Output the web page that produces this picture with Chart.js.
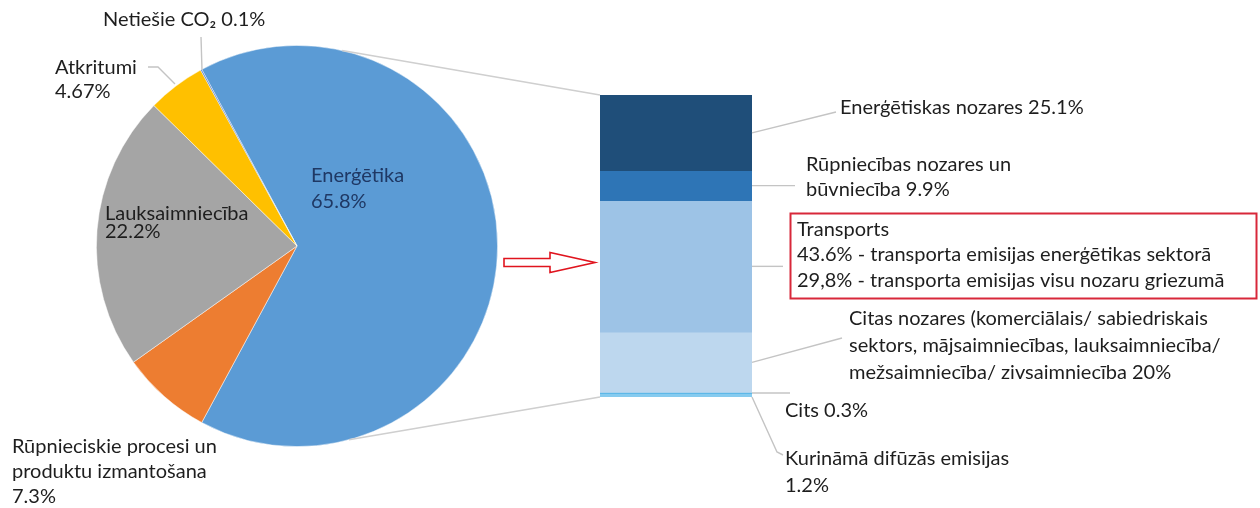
<!DOCTYPE html>
<html>
<head>
<meta charset="utf-8">
<script src="https://cdn.jsdelivr.net/npm/chart.js@4.4.1/dist/chart.umd.min.js"></script>
<style>
  html, body { margin: 0; padding: 0; background: #ffffff; }
  #wrap { position: relative; width: 1260px; height: 508px; overflow: hidden; }
  #wrap canvas { position: absolute; left: 0; top: 0; }
</style>
</head>
<body>
<div id="wrap">
  <canvas id="pie" width="1260" height="508"></canvas>
  <canvas id="bar" width="1260" height="508"></canvas>
</div>
<script>
// ---------- DATA ----------
const pieLabels = ['Enerģētika', 'Rūpnieciskie procesi un produktu izmantošana', 'Lauksaimniecība', 'Atkritumi', 'Netiešie CO₂'];
const pieValues = [65.8, 7.3, 22.2, 4.67, 0.1];
const pieColors = ['#5B9BD5', '#ED7D31', '#A5A5A5', '#FFC000', '#4472C4'];

const barLabels = ['Enerģētiskas nozares', 'Rūpniecības nozares un būvniecība', 'Transports',
  'Citas nozares (komerciālais/ sabiedriskais sektors, mājsaimniecības, lauksaimniecība/ mežsaimniecība/ zivsaimniecība',
  'Cits', 'Kurināmā difūzās emisijas'];
const barValues = [25.1, 9.9, 43.6, 20, 0.3, 1.2];
const barColors = ['#1F4E79', '#2E75B6', '#9DC3E6', '#BDD7EE', '#4FB2E6', '#86CBEF'];
const transportAllSectors = 29.8;

const pct = v => v + '%';
const pctComma = v => String(v).replace('.', ',') + '%';

// ---------- PIE ----------
const FONT = 'Lato, "Open Sans", sans-serif';
const FSIZE = 20;
const pieTotal = pieValues.reduce((a, b) => a + b, 0);
const pieChart = new Chart(document.getElementById('pie'), {
  type: 'pie',
  data: {
    labels: pieLabels,
    datasets: [{
      data: pieValues,
      backgroundColor: pieColors,
      borderColor: 'rgba(255,255,255,0.6)',
      borderWidth: 0.8
    }]
  },
  options: {
    responsive: false,
    animation: false,
    devicePixelRatio: 1,
    rotation: 90 - (pieValues[0] / pieTotal) * 180,
    layout: { padding: { left: 96, right: 762, top: 45, bottom: 61 } },
    plugins: { legend: { display: false }, tooltip: { enabled: false } }
  }
});

// ---------- OVERLAY (labels, leaders, connectors) ----------
const overlay = {
  id: 'overlay',
  afterDraw(chart) {
    const ctx = chart.ctx;
    const arc = pieChart.getDatasetMeta(0).data[0];
    const cx = arc.x, cy = arc.y, R = arc.outerRadius;
    const pt = deg => [cx + R * Math.sin(deg * Math.PI / 180), cy - R * Math.cos(deg * Math.PI / 180)];

    const segs = barValues.map((v, i) => {
      const el = chart.getDatasetMeta(i).data[0];
      const t = Math.min(el.y, el.base), b = Math.max(el.y, el.base);
      return { top: t, bottom: b, mid: (t + b) / 2, left: el.x - el.width / 2, right: el.x + el.width / 2 };
    });
    const barTop = segs[0].top, barBottom = segs[segs.length - 1].bottom;
    const barLeft = segs[0].left, barRight = segs[0].right;

    const line = (pts, color, w) => {
      ctx.save();
      ctx.strokeStyle = color; ctx.lineWidth = w;
      ctx.beginPath();
      pts.forEach((p, i) => i ? ctx.lineTo(p[0], p[1]) : ctx.moveTo(p[0], p[1]));
      ctx.stroke();
      ctx.restore();
    };

    // connectors pie -> bar
    line([pt(13), [barLeft, barTop]], '#CFCFCF', 1.6);
    line([pt(165), [barLeft, barBottom]], '#CFCFCF', 1.6);

    // red hollow arrow
    ctx.save();
    ctx.beginPath();
    ctx.moveTo(504, 258.5); ctx.lineTo(550, 258.5); ctx.lineTo(550, 252.5);
    ctx.lineTo(595, 262.5); ctx.lineTo(550, 272.5); ctx.lineTo(550, 266.5);
    ctx.lineTo(504, 266.5); ctx.closePath();
    ctx.fillStyle = '#ffffff'; ctx.fill();
    ctx.strokeStyle = '#E0141E'; ctx.lineWidth = 1.6; ctx.stroke();
    ctx.restore();

    // leader lines for bar
    const LC = '#C4C4C4';
    line([[barRight, segs[0].mid], [836, 112]], LC, 1.4);
    line([[barRight, segs[1].mid], [795, segs[1].mid]], LC, 1.4);
    line([[barRight, segs[2].mid], [783, segs[2].mid]], LC, 1.4);
    line([[barRight, segs[3].mid], [842, 338]], LC, 1.4);
    line([[barRight, segs[4].mid], [790, segs[4].mid]], LC, 1.4);
    line([[barRight, barBottom], [777, 452], [783, 455]], LC, 1.4);

    // leader lines for pie
    line([[148, 67], [158, 67], [175, 84]], LC, 1.4);
    line([[201, 37], [202, 70]], LC, 1.4);

    // red box
    ctx.save();
    ctx.strokeStyle = '#D8283A'; ctx.lineWidth = 2;
    ctx.strokeRect(790.5, 213.5, 466, 85);
    ctx.restore();

    // texts
    const txt = (s, x, y, color) => {
      ctx.save();
      ctx.font = FSIZE + 'px ' + FONT;
      ctx.fillStyle = color || '#1E1E1E';
      ctx.textBaseline = 'alphabetic';
      ctx.textAlign = 'left';
      ctx.fillText(s, x, y);
      ctx.restore();
    };

    txt(pieLabels[4] + ' ' + pct(pieValues[4]), 103, 26);
    txt(pieLabels[3], 55, 74);
    txt(pct(pieValues[3]), 55, 98);
    txt(pieLabels[0], 311, 182, '#1F3864');
    txt(pct(pieValues[0]), 311, 208, '#1F3864');
    txt(pieLabels[2], 105, 220);
    txt(pct(pieValues[2]), 105, 238);
    txt('Rūpnieciskie procesi un', 12, 453);
    txt('produktu izmantošana', 12, 478);
    txt(pct(pieValues[1]), 12, 503);

    txt(barLabels[0] + ' ' + pct(barValues[0]), 840, 114);
    txt('Rūpniecības nozares un', 806, 171);
    txt('būvniecība ' + pct(barValues[1]), 806, 196);
    txt(barLabels[2], 797, 236);
    txt(pct(barValues[2]) + ' - transporta emisijas enerģētikas sektorā', 797, 261);
    txt(pctComma(transportAllSectors) + ' - transporta emisijas visu nozaru griezumā', 797, 287);
    txt('Citas nozares (komerciālais/ sabiedriskais', 849, 325);
    txt('sektors, mājsaimniecības, lauksaimniecība/', 849, 352);
    txt('mežsaimniecība/ zivsaimniecība ' + pct(barValues[3]), 849, 379);
    txt(barLabels[4] + ' ' + pct(barValues[4]), 785, 417);
    txt(barLabels[5], 785, 465);
    txt(pct(barValues[5]), 785, 492);
  }
};

// ---------- BAR ----------
const barTotal = barValues.reduce((a, b) => a + b, 0);
new Chart(document.getElementById('bar'), {
  type: 'bar',
  data: {
    labels: ['Enerģētika'],
    datasets: barValues.map((v, i) => ({
      label: barLabels[i],
      data: [v],
      backgroundColor: barColors[i],
      borderWidth: 0,
      categoryPercentage: 1,
      barPercentage: 1
    }))
  },
  options: {
    responsive: false,
    animation: false,
    devicePixelRatio: 1,
    layout: { padding: { left: 600, right: 508, top: 95, bottom: 111 } },
    scales: {
      x: { stacked: true, display: false },
      y: { stacked: true, display: false, reverse: true, min: 0, max: barTotal }
    },
    plugins: { legend: { display: false }, tooltip: { enabled: false } }
  },
  plugins: [overlay]
});
</script>
</body>
</html>
